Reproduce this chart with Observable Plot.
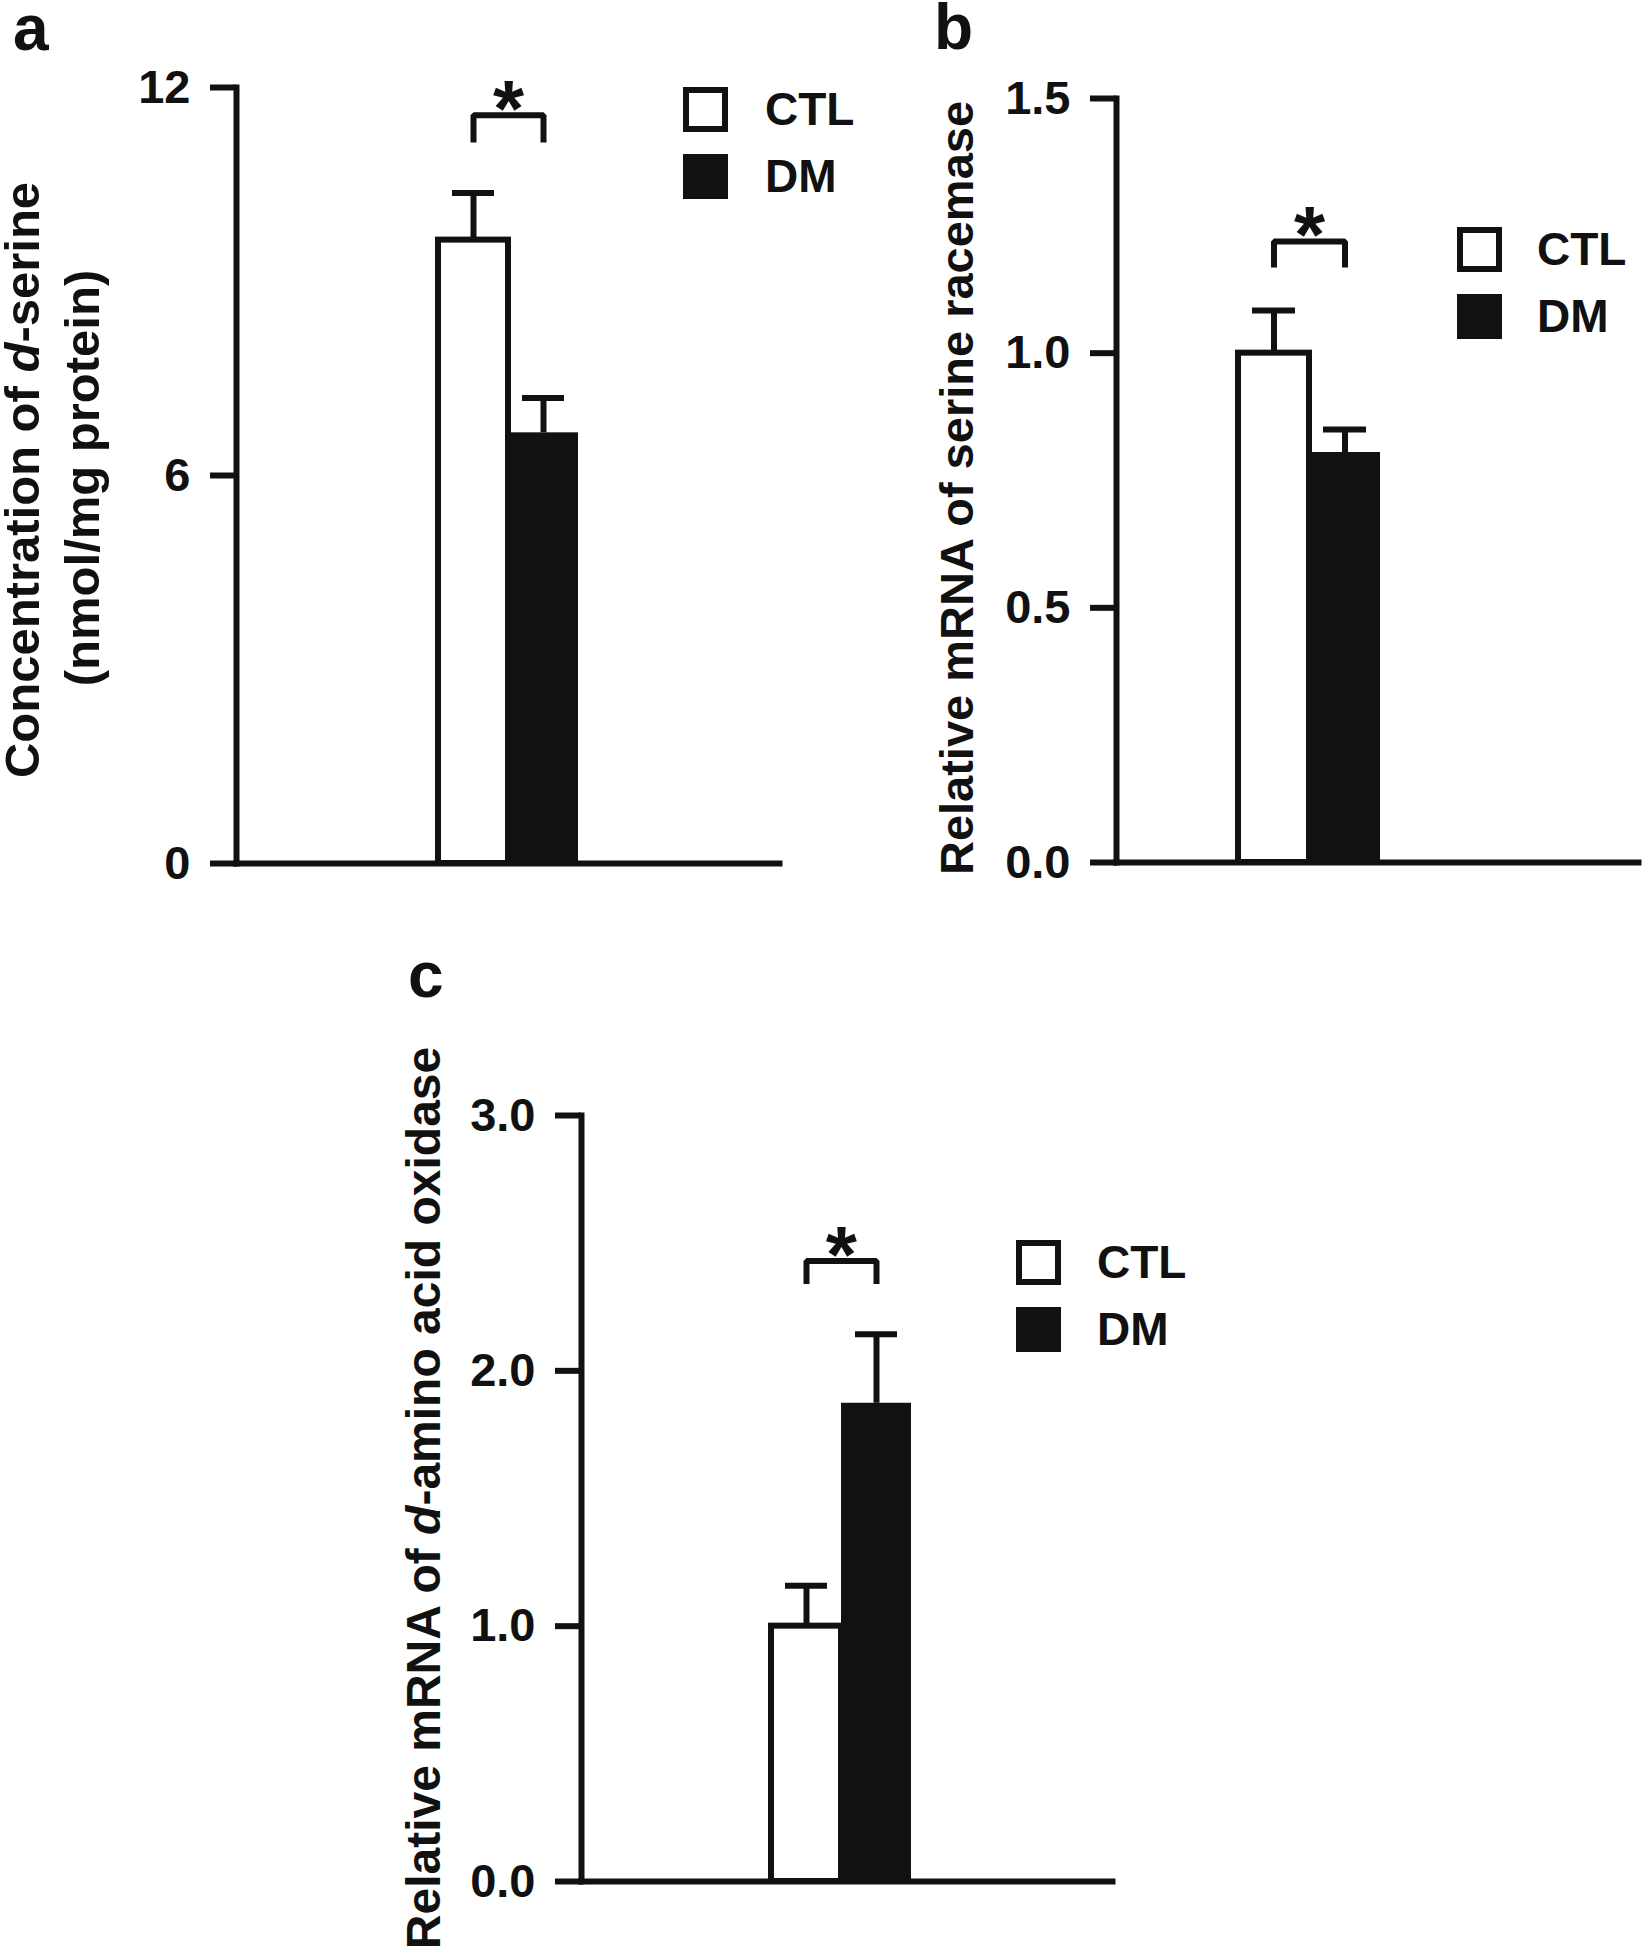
<!DOCTYPE html>
<html><head><meta charset="utf-8">
<script src="https://cdn.jsdelivr.net/npm/d3@7"></script>
<script src="https://cdn.jsdelivr.net/npm/@observablehq/plot@0.6"></script>
<style>
html,body{margin:0;padding:0;background:#fff;}
#page{position:relative;width:1650px;height:1950px;overflow:hidden;font-family:"Liberation Sans",Arial,sans-serif;}
.panel{position:absolute;}
#overlay{position:absolute;left:0;top:0;}
</style></head><body><div id="page"></div>
<script>
// ---- data ----
const groups = ["CTL", "DM"];
const dSerineMean = [9.64, 6.66];
const dSerineSem = [0.73, 0.54];
const racemaseMean = [1.0, 0.805];
const racemaseSem = [0.084, 0.045];
const daaoMean = [1.0, 1.873];
const daaoSem = [0.158, 0.27];
const ticksA = [0, 6, 12];
const ticksB = [0, 0.5, 1.0, 1.5];
const ticksC = [0, 1, 2, 3];
const bracketA = [11.15, 11.57]; // significance bracket: leg end, top
const bracketB = [1.168, 1.219];
const bracketC = [2.34, 2.43];
const sigLabel = "*";

const INK = "#111";
const FONT = "'Liberation Sans', Arial, sans-serif";
const page = document.getElementById("page");

function panel(cfg) {
  const rows = groups.map((g, i) => ({group: g, mean: cfg.mean[i], sem: cfg.sem[i]}));
  const br = [
    {group: groups[0], v: cfg.bracket[0]},
    {group: groups[0], v: cfg.bracket[1]},
    {group: groups[1], v: cfg.bracket[1]},
    {group: groups[1], v: cfg.bracket[0]}
  ];
  const bw = (cfg.barRange[1] - cfg.barRange[0]) / groups.length;
  const svg = Plot.plot({
    width: cfg.width, height: cfg.height,
    marginLeft: cfg.ml, marginRight: cfg.mr, marginTop: cfg.mt, marginBottom: cfg.mb,
    x: {type: "band", domain: groups, range: cfg.barRange, padding: 0, axis: null},
    y: {domain: cfg.domain, axis: null},
    style: {fontFamily: FONT, color: INK, background: "transparent", overflow: "visible"},
    marks: [
      Plot.ruleX(rows, {x: "group", y1: "mean", y2: d => d.mean + d.sem, stroke: INK, strokeWidth: 6}),
      Plot.tickY(rows, {x: "group", y: d => d.mean + d.sem, stroke: INK, strokeWidth: 6, insetLeft: 14, insetRight: 14}),
      Plot.barY(rows, {filter: d => d.group === groups[0], x: "group", y: "mean", fill: "#fff", stroke: INK, strokeWidth: 6}),
      Plot.barY(rows, {filter: d => d.group === groups[1], x: "group", y: "mean", fill: INK}),
      Plot.line(br, {x: "group", y: "v", stroke: INK, strokeWidth: 6, strokeLinejoin: "miter", strokeLinecap: "butt"}),
      Plot.text([{group: groups[1], v: cfg.bracket[1]}], {x: "group", y: "v", text: () => sigLabel, dx: -bw / 2, dy: -5, fontSize: 80, fontWeight: "bold", fill: INK, lineAnchor: "middle"}),
      Plot.axisY({ticks: cfg.ticks, tickSize: 26, tickPadding: 20, strokeWidth: 6, stroke: INK, fontSize: 47, fontWeight: "bold", fill: INK, tickFormat: cfg.fmt, label: null}),
      Plot.frame({anchor: "left", stroke: INK, strokeWidth: 6, strokeLinecap: "square"}),
      Plot.frame({anchor: "bottom", stroke: INK, strokeWidth: 6})
    ]
  });
  svg.classList.add("panel");
  svg.style.left = cfg.left + "px";
  svg.style.top = cfg.top + "px";
  page.appendChild(svg);
}

panel({left: 0, top: 0, width: 800, height: 900, ml: 236, mr: 21, mt: 87, mb: 37,
  barRange: [438, 578], domain: [0, 12], ticks: ticksA, fmt: d3.format("d"),
  mean: dSerineMean, sem: dSerineSem, bracket: bracketA});
panel({left: 840, top: 0, width: 810, height: 900, ml: 276, mr: 12, mt: 98, mb: 38,
  barRange: [398, 540], domain: [0, 1.5], ticks: ticksB, fmt: d3.format(".1f"),
  mean: racemaseMean, sem: racemaseSem, bracket: bracketB});
panel({left: 380, top: 960, width: 800, height: 960, ml: 201, mr: 68, mt: 155, mb: 39,
  barRange: [390, 531], domain: [0, 3], ticks: ticksC, fmt: d3.format(".1f"),
  mean: daaoMean, sem: daaoSem, bracket: bracketC});

// ---- text overlay: panel letters, axis titles, legends ----
const ov = d3.select(page).append("svg").attr("id", "overlay")
  .attr("width", 1650).attr("height", 1950)
  .style("font-family", FONT).style("font-weight", "bold").attr("fill", INK);

[["a", 13, 50], ["b", 934, 49], ["c", 408, 997]].forEach(([t, x, y]) =>
  ov.append("text").attr("x", x).attr("y", y).attr("font-size", 64).text(t));

function title(x, y, size, parts) {
  const t = ov.append("text").attr("transform", `translate(${x},${y}) rotate(-90)`)
    .attr("text-anchor", "middle").attr("font-size", size);
  parts.forEach(p => {
    const s = t.append("tspan").text(p.t);
    if (p.i) s.attr("font-style", "italic");
  });
}
title(39, 480, 49, [{t: "Concentration of "}, {t: "d", i: true}, {t: "-serine"}]);
title(99, 478, 49, [{t: "(nmol/mg protein)"}]);
title(973, 488, 47, [{t: "Relative mRNA of serine racemase"}]);
title(440, 1498, 48, [{t: "Relative mRNA of "}, {t: "d", i: true}, {t: "-amino acid oxidase"}]);

function legend(bx, by, tx) {
  ov.append("rect").attr("x", bx + 3).attr("y", by + 3).attr("width", 39).attr("height", 39)
    .attr("fill", "#fff").attr("stroke", INK).attr("stroke-width", 6);
  ov.append("rect").attr("x", bx).attr("y", by + 67).attr("width", 45).attr("height", 45).attr("fill", INK);
  ov.append("text").attr("x", tx).attr("y", by + 38).attr("font-size", 46).text(groups[0]);
  ov.append("text").attr("x", tx).attr("y", by + 105).attr("font-size", 46).text(groups[1]);
}
legend(683, 87, 765);
legend(1457, 227, 1537);
legend(1016, 1240, 1097);
</script>
</body></html>
